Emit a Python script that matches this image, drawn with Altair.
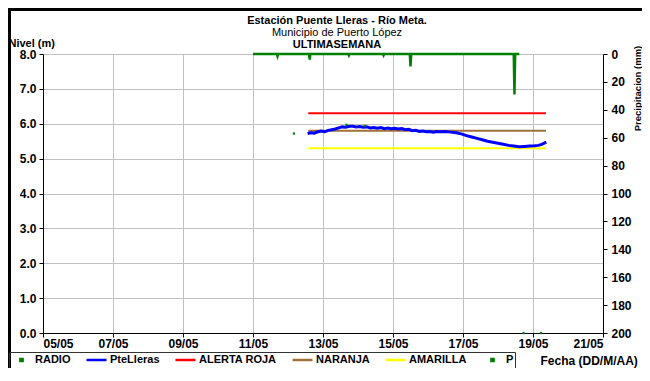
import altair as alt
import pandas as pd

FONT = "Liberation Sans"

# ---- categories / styling lists ----
series_names = ["RADIO", "PteLleras", "ALERTA ROJA", "NARANJA", "AMARILLA", "P"]
series_colors = ["#008000", "#0000FF", "#FF0000", "#A0703C", "#FFFF00", "#008000"]
legend_shapes = ["square", "stroke", "stroke", "stroke", "stroke", "square"]
legend_sizes = [5, 400, 400, 400, 400, 5]

header_lines = ["Estación Puente Lleras - Río Meta.", "Municipio de Puerto López", "ULTIMASEMANA"]
header_weights = ["bold", "normal", "bold"]

x_ticks = [5, 7, 9, 11, 13, 15, 17, 19, 21]
nivel_ticks = [0, 1, 2, 3, 4, 5, 6, 7, 8]
precip_ticks = [0, 20, 40, 60, 80, 100, 120, 140, 160, 180, 200]

# ---- PteLleras level (day of May, metres) ----
ptel_dia = [12.56, 12.65, 12.75, 12.85, 12.95, 13.05, 13.15, 13.25, 13.35, 13.45,
            13.55, 13.65, 13.75, 13.85, 13.95, 14.05, 14.15, 14.25, 14.35, 14.45,
            14.55, 14.65, 14.75, 14.85, 14.95, 15.05, 15.15, 15.25, 15.35, 15.45,
            15.55, 15.65, 15.75, 15.85, 15.95, 16.05, 16.15, 16.25, 16.35, 16.50,
            16.65, 16.80, 16.95, 17.10, 17.25, 17.40, 17.55, 17.70, 17.85, 18.00,
            18.15, 18.30, 18.45, 18.60, 18.75, 18.90, 19.05, 19.15, 19.25, 19.38]
ptel_nivel = [5.72, 5.74, 5.73, 5.77, 5.79, 5.77, 5.81, 5.83, 5.85, 5.88,
              5.91, 5.90, 5.93, 5.93, 5.91, 5.92, 5.90, 5.91, 5.88, 5.89,
              5.87, 5.89, 5.86, 5.88, 5.86, 5.87, 5.85, 5.86, 5.83, 5.84,
              5.80, 5.81, 5.78, 5.79, 5.77, 5.78, 5.76, 5.78, 5.77, 5.78,
              5.76, 5.74, 5.71, 5.66, 5.62, 5.58, 5.54, 5.50, 5.47, 5.44,
              5.41, 5.38, 5.36, 5.34, 5.35, 5.36, 5.37, 5.38, 5.41, 5.47]

# ---- RADIO readings ----
radio_dia = [12.17, 13.67, 14.19, 18.73, 19.23]
radio_nivel = [5.72, 5.97, 5.94, 0.0, 0.0]

# ---- alert thresholds ----
alert_names = ["ALERTA ROJA", "NARANJA", "AMARILLA"]
alert_levels = [6.30, 5.80, 5.30]
alert_span = [12.58, 19.37]

# ---- precipitation P (mm) ----
p_dia = [11.00, 11.68, 11.70, 11.72, 12.60, 12.62, 12.64, 13.72, 13.74, 13.76,
         14.71, 14.73, 14.75, 15.48, 15.50, 15.52, 18.45, 18.47, 18.49, 18.61]
p_mm = [0, 0, 1.6, 0, 0, 4, 0, 0, 1, 0,
        0, 1, 0, 0, 9, 0, 0, 29, 0, 0]

# ---- tables ----
df_ptel = pd.DataFrame({"dia": ptel_dia, "nivel": ptel_nivel, "serie": "PteLleras"})
df_radio = pd.DataFrame({"dia": radio_dia, "nivel": radio_nivel, "serie": "RADIO"})
rows = []
for name, lvl in zip(alert_names, alert_levels):
    for d in alert_span:
        rows.append({"dia": d, "nivel": lvl, "serie": name})
df_alert = pd.DataFrame(rows)
df_p = pd.DataFrame({"dia": p_dia, "mm": p_mm, "serie": "P"})

W, H = 560, 279

x_enc = alt.X(
    "dia:Q",
    scale=alt.Scale(domain=[5, 21], nice=False, zero=False),
    axis=alt.Axis(
        values=x_ticks,
        labelExpr="(datum.value < 10 ? '0' : '') + datum.value + '/05'",
        title="Fecha (DD/M/AA)",
        titleX=497, titleY=31, titleAlign="left", titleBaseline="alphabetic",
        titleAnchor="start", titleFontSize=12,
        grid=True, tickSize=4, labelPadding=1,
    ),
)
y_enc = alt.Y(
    "nivel:Q",
    scale=alt.Scale(domain=[0, 8], nice=False),
    axis=alt.Axis(
        values=nivel_ticks, format=".1f", title="Nivel (m)", titleAngle=0,
        titleX=-35, titleY=-8, titleAlign="left", titleBaseline="alphabetic",
        titleAnchor="start", grid=True, tickSize=4, labelPadding=3,
    ),
)
color_enc = alt.Color(
    "serie:N",
    scale=alt.Scale(domain=series_names, range=series_colors),
)

radio = alt.Chart(df_radio).mark_point(filled=True, opacity=1).encode(
    x=x_enc, y=y_enc, color=color_enc,
    shape=alt.Shape("serie:N", scale=alt.Scale(domain=series_names, range=legend_shapes)),
    size=alt.Size("serie:N", scale=alt.Scale(type="ordinal", domain=series_names, range=legend_sizes)),
)
ptel = alt.Chart(df_ptel).mark_line(strokeWidth=3).encode(x=x_enc, y=y_enc, color=color_enc)
alerts = alt.Chart(df_alert).mark_line(strokeWidth=2).encode(
    x=x_enc, y=y_enc, color=color_enc, detail="serie:N"
)

hdr_layers = []
for txt, wt, yy in zip(header_lines, header_weights, [-33, -21, -9]):
    hdr_layers.append(
        alt.Chart(pd.DataFrame({"t": [txt]})).mark_text(
            font=FONT, fontSize=11, fontWeight=wt, color="black",
            align="center", baseline="middle",
        ).encode(text="t:N", x=alt.value(294), y=alt.value(yy))
    )

# outer figure frame (left and top edges), drawn as thin filled bars
frame_df = pd.DataFrame({"a": [0]})
frame_left = alt.Chart(frame_df).mark_rect(color="black", strokeWidth=0).encode(
    x=alt.value(-35), x2=alt.value(-32), y=alt.value(-46), y2=alt.value(320)
)
frame_top = alt.Chart(frame_df).mark_rect(color="black", strokeWidth=0).encode(
    x=alt.value(-35), x2=alt.value(599), y=alt.value(-46), y2=alt.value(-43)
)

left = alt.layer(alerts, ptel, radio, *hdr_layers, frame_left, frame_top)

p_line = alt.Chart(df_p).mark_line(strokeWidth=2.5).encode(
    x=x_enc,
    y=alt.Y(
        "mm:Q",
        scale=alt.Scale(domain=[0, 200], reverse=True, nice=False),
        axis=alt.Axis(
            orient="right", values=precip_ticks, title="Precipitacion (mm)",
            titleAngle=270, titleX=34, titleY=34, titleAlign="center",
            titleBaseline="middle", grid=False, tickSize=4, labelPadding=4,
            titleFontSize=9.5,
        ),
    ),
    color=color_enc,
)

chart = alt.layer(left, p_line).resolve_scale(y="independent").properties(
    width=W, height=H,
    autosize=alt.AutoSizeParams(type="none"),
    padding={"left": 35, "top": 46, "right": 39, "bottom": 35},
).configure_view(stroke=None).configure_axis(
    labelFont=FONT, labelFontSize=12, labelFontWeight="bold", labelColor="black",
    titleFont=FONT, titleFontSize=11, titleFontWeight="bold", titleColor="black",
    domainColor="black", tickColor="black", gridColor="#C0C0C0", gridWidth=1,
).configure_legend(
    orient="none", legendX=-34, legendY=298, direction="horizontal", columns=6,
    title=None, strokeColor="#333333", padding=1, labelFont=FONT, labelFontSize=11,
    labelFontWeight="bold", labelColor="black", symbolStrokeWidth=2.5,
    columnPadding=14, labelOffset=2, clipHeight=14,
)

chart.save("out.html", embed_options={"renderer": "svg", "actions": False})
